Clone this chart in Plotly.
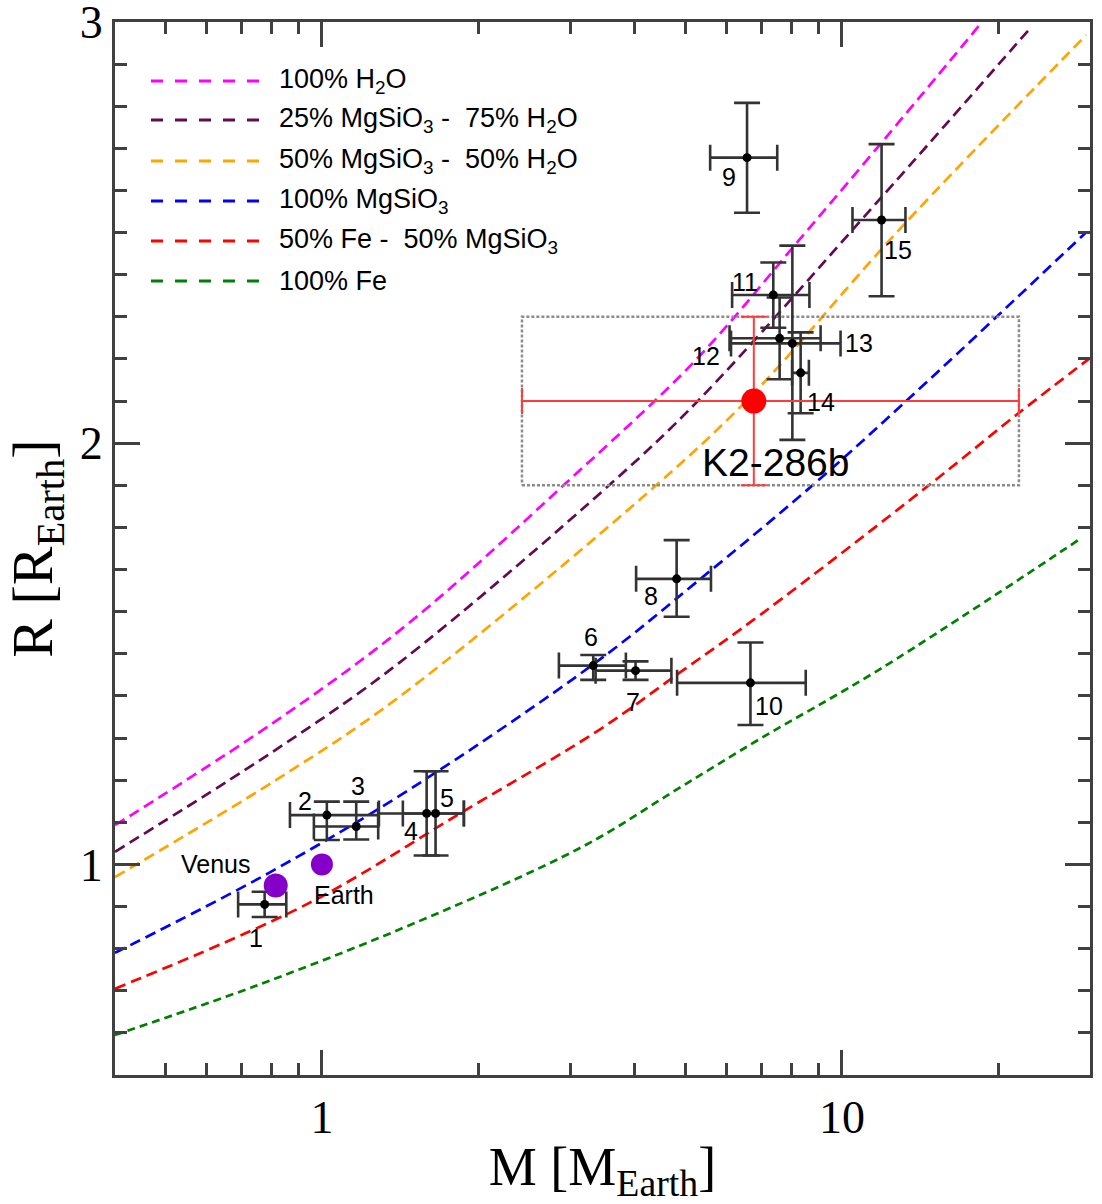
import numpy as np
import plotly.graph_objects as go

# ---------------- composition curves (M in M_Earth, R in R_Earth) ----------------
h2o_m = [0.4, 0.815, 1.47, 2.95, 5.24, 8.27, 14.06, 18.6]
h2o_r = [1.093, 1.34, 1.573, 1.906, 2.198, 2.482, 2.819, 3.0]

mg25_m = [0.4, 0.815, 1.406, 3.61, 5.31, 11.78, 23.2]
mg25_r = [1.03, 1.272, 1.478, 1.906, 2.103, 2.577, 2.99]

mg50_m = [0.4, 0.815, 1.406, 4.45, 6.77, 12.87, 29.5]
mg50_r = [0.97, 1.20, 1.397, 1.906, 2.119, 2.506, 2.969]

mg100_m = [0.4, 0.791, 1.47, 3.41, 5.31, 9.03, 14.7, 29.5]
mg100_r = [0.79, 0.98, 1.177, 1.485, 1.675, 1.913, 2.15, 2.501]

fe50_m = [0.4, 0.944, 1.889, 3.41, 4.86, 7.03, 14.9, 21.9, 30.0]
fe50_r = [0.705, 0.908, 1.129, 1.319, 1.454, 1.596, 1.906, 2.072, 2.202]

fe100_m = [0.4, 0.74, 1.47, 3.17, 4.86, 7.0, 11.78, 28.9]
fe100_r = [0.595, 0.71, 0.855, 1.042, 1.181, 1.30, 1.462, 1.775]

curve_names = ["100% H<sub>2</sub>O",
               "25% MgSiO<sub>3</sub> -  75% H<sub>2</sub>O",
               "50% MgSiO<sub>3</sub> -  50% H<sub>2</sub>O",
               "100% MgSiO<sub>3</sub>",
               "50% Fe -  50% MgSiO<sub>3</sub>",
               "100% Fe"]
curve_colors = ["#ff00ff", "#640a50", "#ffa500", "#0000ff", "#ff0000", "#008000"]

# ---------------- known planets ----------------
planet_labels = ["1", "2", "3", "4", "5", "6", "7", "8", "9", "10", "11", "12", "13", "14", "15"]
planet_mass = [0.776, 1.022, 1.164, 1.590, 1.654, 3.325, 4.01, 4.81, 6.57, 6.67, 7.38, 7.59, 8.03, 8.33, 11.92]
planet_mass_em = [0.086, 0.154, 0.199, 0.303, 0.223, 0.469, 0.65, 0.79, 0.99, 1.85, 1.23, 1.51, 1.91, 0.31, 1.44]
planet_mass_ep = [0.078, 0.261, 0.119, 0.285, 0.221, 0.517, 0.69, 0.79, 0.94, 1.85, 1.28, 1.51, 1.91, 0.31, 1.33]
planet_rad = [0.905, 1.117, 1.090, 1.121, 1.121, 1.472, 1.460, 1.678, 2.678, 1.431, 2.352, 2.249, 2.237, 2.167, 2.530]
planet_rad_ep = [0.03, 0.032, 0.059, 0.10, 0.10, 0.025, 0.022, 0.092, 0.13, 0.096, 0.077, 0.097, 0.232, 0.096, 0.18]
planet_rad_em = [0.03, 0.059, 0.031, 0.10, 0.10, 0.034, 0.022, 0.09, 0.131, 0.10, 0.078, 0.097, 0.229, 0.096, 0.181]
label_dx = [-9, -22, 2, -16, 11, -2, -3, -26, -18, 19, -28, -74, 67, 20, 16]
label_dy = [-34, 14, 40, -18, 15, 29, -31, -17, -19, -23, 13, -18, 0, -29, -30]

# ---------------- solar system ----------------
solar_names = ["Venus", "Earth"]
solar_mass = [0.815, 1.0]
solar_rad = [0.95, 1.0]
solar_size = [24, 22]
solar_dx = [-60, 22]
solar_dy = [21, -31]

# ---------------- K2-286b ----------------
k2_name = "K2-286b"
k2_mass = 6.77
k2_mass_em = 4.345
k2_mass_ep = 15.13
k2_rad = 2.10
k2_rad_err = 0.20

# ---------------- axes ----------------
x_range = [0.4, 30]
y_range = [0.5, 3.0]
x_major = [1, 10]
x_minor = [0.5, 0.6, 0.7, 0.8, 0.9, 2, 3, 4, 5, 6, 7, 8, 9, 20]
y_major = [1, 2, 3]
y_minor = [v / 10 for v in range(6, 30) if v % 10 != 0]

AX = "#404040"
SERIF = "Liberation Serif, Times New Roman, serif"
SANS = "Liberation Sans, Arial, sans-serif"

fig = go.Figure()

curves = [(h2o_m, h2o_r), (mg25_m, mg25_r), (mg50_m, mg50_r),
          (mg100_m, mg100_r), (fe50_m, fe50_r), (fe100_m, fe100_r)]
for i, (m, r) in enumerate(curves):
    dash = "8px,5px" if i == 5 else "11px,6px"
    fig.add_trace(go.Scatter(x=m, y=r, mode="lines", name=curve_names[i],
                             line=dict(color=curve_colors[i], width=2.7, dash=dash, shape="spline", smoothing=1.0),
                             showlegend=False, hoverinfo="skip"))

# dotted box around K2-286b uncertainty
bx0, bx1 = k2_mass - k2_mass_em, k2_mass + k2_mass_ep
by0, by1 = k2_rad - k2_rad_err, k2_rad + k2_rad_err
fig.add_trace(go.Scatter(x=[bx0, bx1, bx1, bx0, bx0], y=[by0, by0, by1, by1, by0], mode="lines",
                         line=dict(color="#8c8c8c", width=2.5, dash="3px,2px"),
                         showlegend=False, hoverinfo="skip"))

# known planets
fig.add_trace(go.Scatter(
    x=planet_mass, y=planet_rad, mode="markers",
    marker=dict(color="black", size=9),
    error_x=dict(type="data", symmetric=False, array=planet_mass_ep, arrayminus=planet_mass_em,
                 color="#333333", thickness=2.6, width=13),
    error_y=dict(type="data", symmetric=False, array=planet_rad_ep, arrayminus=planet_rad_em,
                 color="#333333", thickness=2.6, width=13),
    showlegend=False))

# K2-286b
fig.add_trace(go.Scatter(
    x=[k2_mass], y=[k2_rad], mode="markers",
    marker=dict(color="#ff0000", size=25),
    error_x=dict(type="data", symmetric=False, array=[k2_mass_ep], arrayminus=[k2_mass_em],
                 color="#ff3c3c", thickness=2, width=13),
    error_y=dict(type="data", array=[k2_rad_err], color="#ff3c3c", thickness=2, width=13),
    showlegend=False))

# Venus & Earth
fig.add_trace(go.Scatter(x=solar_mass, y=solar_rad, mode="markers",
                         marker=dict(color="#8400c8", size=solar_size, opacity=1,
                                     line=dict(width=0)),
                         showlegend=False))

annotations = []
for lab, m, r, dx, dy in zip(planet_labels, planet_mass, planet_rad, label_dx, label_dy):
    annotations.append(dict(x=np.log10(m), y=r, xref="x", yref="y", text=lab, showarrow=False,
                            xshift=dx, yshift=dy, font=dict(family=SANS, size=25, color="black")))
for lab, m, r, dx, dy in zip(solar_names, solar_mass, solar_rad, solar_dx, solar_dy):
    annotations.append(dict(x=np.log10(m), y=r, xref="x", yref="y", text=lab, showarrow=False,
                            xshift=dx, yshift=dy, font=dict(family=SANS, size=25, color="black")))
annotations.append(dict(x=np.log10(k2_mass), y=k2_rad, xref="x", yref="y", text=k2_name, showarrow=False,
                        xshift=22, yshift=-61, font=dict(family=SANS, size=39, color="black")))

# custom legend (long dashed samples)
shapes = []
plot_l, plot_w, plot_b, plot_h = 115, 975, 1075, 1053
leg_rows = [81, 120, 161, 201, 241, 281]
for i, py in enumerate(leg_rows):
    yp = (plot_b - py) / plot_h
    shapes.append(dict(type="line", xref="paper", yref="paper",
                       x0=(151 - plot_l) / plot_w, x1=(263 - plot_l) / plot_w, y0=yp, y1=yp,
                       line=dict(color=curve_colors[i], width=3, dash="12px,12px")))
    annotations.append(dict(x=(277 - plot_l) / plot_w, y=yp, xref="paper", yref="paper",
                            text=curve_names[i], showarrow=False, xanchor="left", yanchor="middle",
                            font=dict(family=SANS, size=27, color="black")))

fig.update_layout(
    width=1102, height=1204,
    margin=dict(l=115, r=12, t=22, b=129, autoexpand=False),
    paper_bgcolor="white", plot_bgcolor="white",
    showlegend=False,
    shapes=shapes, annotations=annotations,
    xaxis=dict(type="log", range=[np.log10(x_range[0]), np.log10(x_range[1])],
               tickmode="array", tickvals=x_major, ticktext=[str(v) for v in x_major],
               ticks="inside", ticklen=25, tickwidth=2.5, tickcolor=AX,
               showline=True, linewidth=3, linecolor=AX, mirror="ticks",
               showgrid=False, zeroline=False, ticklabeloverflow="allow", automargin=False,
               minor=dict(tickmode="array", tickvals=x_minor, ticks="inside", ticklen=12,
                          tickwidth=2.5, tickcolor=AX, showgrid=False),
               tickfont=dict(family=SERIF, size=46, color="black"),
               title=dict(text="M [M<sub>Earth</sub>]", font=dict(family=SERIF, size=54, color="black"),
                          standoff=10)),
    yaxis=dict(range=y_range, tickmode="array", tickvals=y_major, ticktext=[str(v) for v in y_major],
               ticks="inside", ticklen=25, tickwidth=2.5, tickcolor=AX,
               showline=True, linewidth=3, linecolor=AX, mirror="ticks",
               showgrid=False, zeroline=False, ticklabeloverflow="allow", automargin=False,
               minor=dict(tickmode="array", tickvals=y_minor, ticks="inside", ticklen=12,
                          tickwidth=2.5, tickcolor=AX, showgrid=False),
               tickfont=dict(family=SERIF, size=46, color="black"),
               title=dict(text="R [R<sub>Earth</sub>]", font=dict(family=SERIF, size=58, color="black"),
                          standoff=10)),
)

fig.write_html("out.html")
